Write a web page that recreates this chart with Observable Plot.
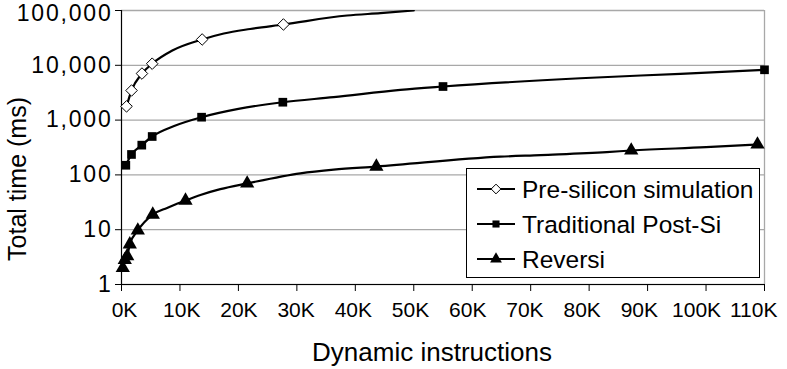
<!DOCTYPE html>
<html><head><meta charset="utf-8">
<script src="https://cdn.jsdelivr.net/npm/d3@7"></script>
<script src="https://cdn.jsdelivr.net/npm/@observablehq/plot@0.6"></script>
<style>
body{margin:0;background:#fff;}
svg{font-family:"Liberation Sans",Arial,Helvetica,sans-serif;}
</style>
</head><body><div id="chart"></div>
<script>
// Series names
const seriesNames = ["Pre-silicon simulation", "Traditional Post-Si", "Reversi"];

// Tick values
const xTicks = [0, 10000, 20000, 30000, 40000, 50000, 60000, 70000, 80000, 90000, 100000, 110000];
const yTicks = [1, 10, 100, 1000, 10000, 100000];

// Pre-silicon simulation: marker points and line points (x = dynamic instructions, y = ms)
const preMarkX = [860, 1720, 3500, 5250, 13800, 27700];
const preMarkY = [1780, 3470, 7070, 10700, 29600, 55600];
const preLineX = [860, 1720, 3500, 5250, 8700, 13800, 17500, 22000, 27700, 38600, 44300, 50000];
const preLineY = [1780, 3470, 7070, 10700, 18600, 29600, 38000, 46000, 55600, 81000, 89500, 100000];

// Traditional Post-Si
const tradMarkX = [740, 1710, 3470, 5250, 13700, 27600, 55000, 110000];
const tradMarkY = [150, 236, 349, 502, 1130, 2120, 4100, 8280];
const tradLineX = [740, 1710, 3470, 5250, 9000, 13700, 20000, 27600, 36300, 47700, 55000, 78500, 95600, 110000];
const tradLineY = [150, 236, 349, 502, 780, 1130, 1600, 2120, 2620, 3570, 4100, 5800, 7000, 8280];

// Reversi
const revMarkX = [220, 560, 980, 1420, 2790, 5350, 10950, 21500, 43600, 87200, 108800];
const revMarkY = [2, 2.8, 3.3, 5.4, 9.7, 18.9, 34, 70, 142, 279, 359];
const revLineX = [220, 560, 980, 1420, 2790, 5350, 7800, 10950, 13500, 16900, 21500, 30600, 36300, 43600, 64800, 71700, 83000, 87200, 100000, 108800];
const revLineY = [2, 2.8, 3.3, 5.4, 9.7, 18.9, 25, 34, 43, 55, 70, 107, 125, 142, 215, 230, 260, 279, 320, 359];

const toRows = (xs, ys, s) => xs.map((x, i) => ({x, y: ys[i], series: s}));
const lineData = [
  ...toRows(preLineX, preLineY, seriesNames[0]),
  ...toRows(tradLineX, tradLineY, seriesNames[1]),
  ...toRows(revLineX, revLineY, seriesNames[2])
];
const preMarks = toRows(preMarkX, preMarkY, seriesNames[0]);
const tradMarks = toRows(tradMarkX, tradMarkY, seriesNames[1]);
const revMarks = toRows(revMarkX, revMarkY, seriesNames[2]);

const gridColor = "#a8a8a8";

const chart = Plot.plot({
  width: 787,
  height: 369,
  marginLeft: 121,
  marginRight: 23,
  marginTop: 10,
  marginBottom: 85,
  style: {fontFamily: '"Liberation Sans", Arial, sans-serif', background: "#fff", overflow: "visible"},
  x: {type: "linear", domain: [0, 110000]},
  y: {type: "log", domain: [1, 100000]},
  marks: [
    Plot.gridY(yTicks, {stroke: gridColor, strokeOpacity: 1, strokeWidth: 1.3}),
    Plot.ruleX([110000], {stroke: gridColor, strokeWidth: 1.3}),
    Plot.axisY({ticks: yTicks, tickSize: 6, tickPadding: 3, tickFormat: d3.format(","), fontSize: 23, label: null, stroke: "#000"}),
    Plot.axisX({ticks: xTicks, tickSize: 7, tickPadding: 11, tickFormat: d => (d / 1000) + "K", fontSize: 21, label: null, stroke: "#000"}),
    Plot.ruleY([1], {stroke: "#000", strokeWidth: 1.2}),
    Plot.ruleX([0], {stroke: "#000", strokeWidth: 1.2}),
    Plot.line(lineData, {x: "x", y: "y", z: "series", stroke: "#000", strokeWidth: 2.2, curve: "monotone-x", clip: true}),
    Plot.dot(preMarks, {x: "x", y: "y", symbol: "diamond2", r: 5.2, fill: "#fff", stroke: "#000", strokeWidth: 1}),
    Plot.dot(tradMarks, {x: "x", y: "y", symbol: "square", r: 4.9, fill: "#000", stroke: "none"}),
    Plot.dot(revMarks, {x: "x", y: "y", symbol: "triangle", r: 5.3, fill: "#000", stroke: "none"})
  ]
});

const svg = d3.select(chart);
// y tick labels: slightly wider spacing, as in the reference; the top label sits a little inside
const yLabels = svg.selectAll('[aria-label="y-axis tick label"] text').attr("letter-spacing", "1.8px");
yLabels.filter(function () { return this.textContent === "100,000"; }).attr("dy", "0.32em").attr("y", 3);
// x tick labels: labels are spread slightly tighter than the ticks in the reference
svg.selectAll('[aria-label="x-axis tick label"] text').each(function (d, i) {
  d3.select(this).attr("dx", 3 - 1.25 * i);
});

// Axis titles
svg.append("text")
  .attr("transform", "translate(26,179) rotate(-90)")
  .attr("text-anchor", "middle")
  .attr("font-size", 25)
  .attr("fill", "#000")
  .text("Total time (ms)");
svg.append("text")
  .attr("x", 432).attr("y", 361)
  .attr("text-anchor", "middle")
  .attr("font-size", 26)
  .attr("fill", "#000")
  .text("Dynamic instructions");

// Legend
const lg = svg.append("g");
lg.append("rect").attr("x", 466.5).attr("y", 168.5).attr("width", 293).attr("height", 109)
  .attr("fill", "#fff").attr("stroke", "#000").attr("stroke-width", 1);
const rowY = [189, 224, 259];
const symbols = [d3.symbolDiamond2, d3.symbolSquare, d3.symbolTriangle];
const sizes = [60, 50, 60];
const fills = ["#fff", "#000", "#000"];
seriesNames.forEach((name, i) => {
  const y = rowY[i];
  lg.append("line").attr("x1", 477).attr("x2", 515).attr("y1", y).attr("y2", y)
    .attr("stroke", "#000").attr("stroke-width", 2);
  lg.append("path").attr("d", d3.symbol(symbols[i], sizes[i])())
    .attr("transform", `translate(496,${y})`)
    .attr("fill", fills[i]).attr("stroke", i === 0 ? "#000" : "none");
  lg.append("text").attr("x", 522).attr("y", y + 8.7)
    .attr("text-anchor", "start")
    .attr("font-size", 24.5).attr("fill", "#000").text(name);
});

document.getElementById("chart").appendChild(chart);
</script>
</body></html>
